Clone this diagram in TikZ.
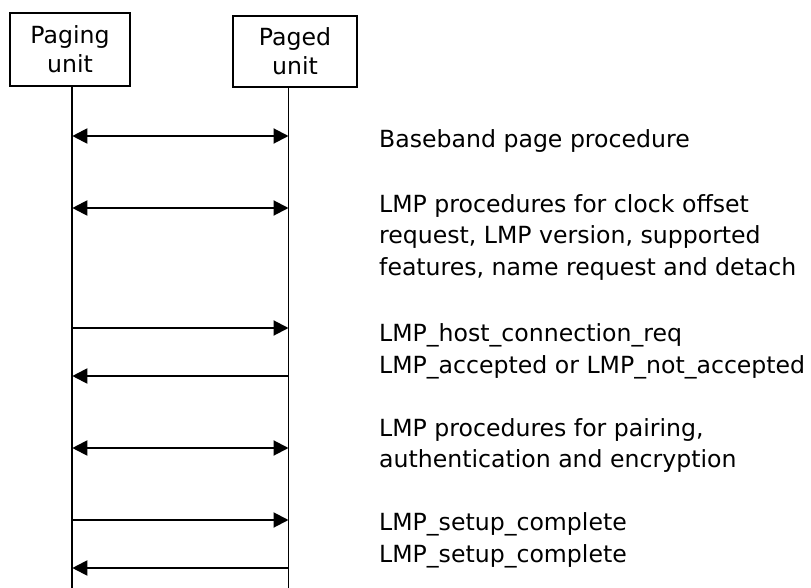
\documentclass[tikz,border=0pt]{standalone}
\usepackage{fontspec}
\setmainfont{DejaVu Sans}
\usetikzlibrary{arrows.meta}
\begin{document}
\begin{tikzpicture}[x=1pt,y=-1pt,
  font=\fontsize{23.6}{31.5}\selectfont,
  unitbox/.style={draw, line width=2pt, align=center, inner sep=0pt,
    font=\fontsize{23.6}{29}\selectfont},
  life/.style={line width=1.8pt},
  msg/.style={line width=2pt, -{Triangle[length=15pt,width=15pt]}},
  bimsg/.style={line width=2pt, {Triangle[length=15pt,width=15pt]}-{Triangle[length=15pt,width=15pt]}},
  desc/.style={anchor=base west, align=left, inner sep=0pt}]
\useasboundingbox (0,0) rectangle (811,588);
% units
\node[unitbox, minimum width=120pt, minimum height=73pt] (paging) at (70,49.5) {Paging\\unit};
\node[unitbox, minimum width=124pt, minimum height=71pt] (paged) at (295,51.5) {Paged\\unit};
% lifelines
\coordinate (ltop) at (72.3,86);
\coordinate (lbot) at (72.3,588);
\coordinate (rtop) at (288.5,87);
\coordinate (rbot) at (288.5,588);
\draw[life] (ltop) -- (lbot);
\draw[life] (rtop) -- (rbot);
% message end points
\foreach \n/\y in {1/136,2/208,3/328,4/376,5/448,6/520,7/568}{
  \coordinate (a\n) at (72.3,\y);
  \coordinate (b\n) at (288.5,\y);
}
\draw[bimsg] (a1) -- (b1);
\draw[bimsg] (a2) -- (b2);
\draw[msg] (a3) -- (b3);
\draw[msg] (b4) -- (a4);
\draw[bimsg] (a5) -- (b5);
\draw[msg] (a6) -- (b6);
\draw[msg] (b7) -- (a7);
% descriptions (anchored at the baseline of the last line)
\node[desc] (t1) at (379,148) {Baseband page procedure};
\node[desc] (t2) at (379,275) {LMP procedures for clock offset\\request, LMP version, supported\\features, name request and detach};
\node[desc] (t3) at (379,373) {LMP\_host\_connection\_req\\LMP\_accepted or LMP\_not\_accepted};
\node[desc] (t4) at (379,467.5) {LMP procedures for pairing,\\authentication and encryption};
\node[desc] (t5) at (379,562) {LMP\_setup\_complete\\LMP\_setup\_complete};
\end{tikzpicture}
\end{document}
